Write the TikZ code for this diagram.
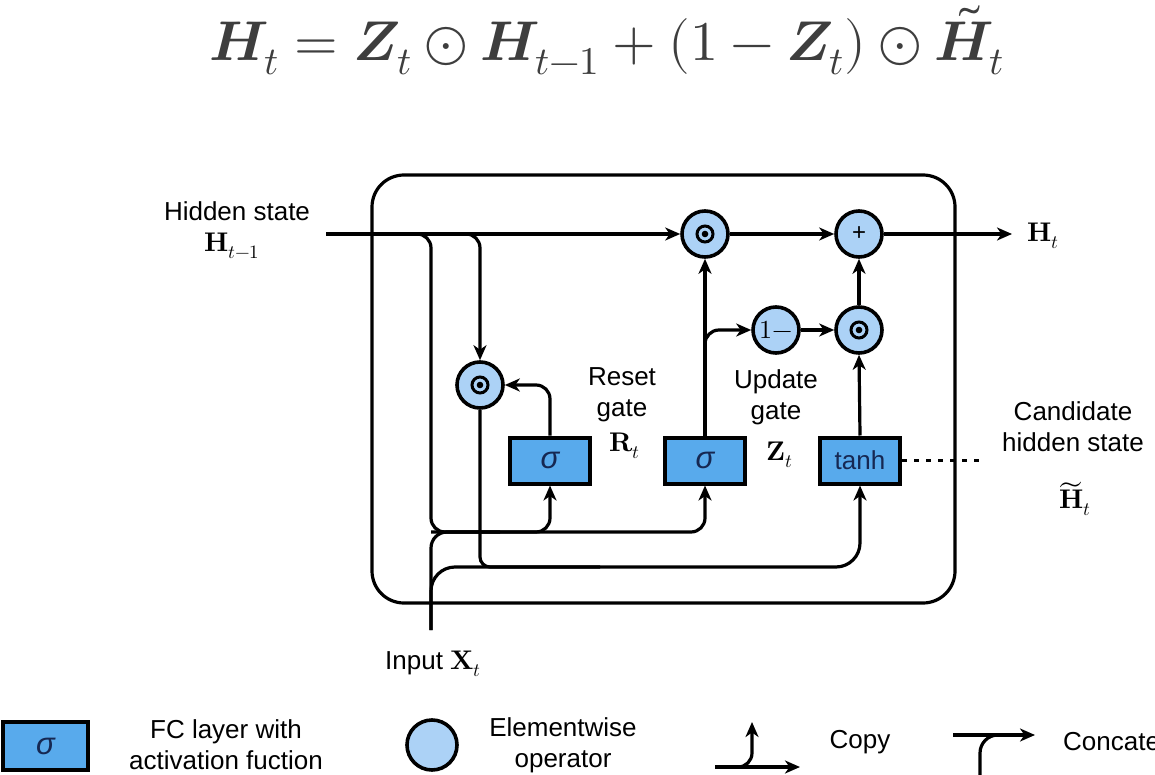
\documentclass[tikz,border=0pt]{standalone}
\usepackage{fontspec}
\usepackage{unicode-math}
\setsansfont{Liberation Sans}
\usetikzlibrary{arrows.meta,calc}
\definecolor{boxblue}{RGB}{88,170,236}
\definecolor{opblue}{RGB}{172,210,246}
\definecolor{navy}{RGB}{22,40,82}
\definecolor{eqgray}{RGB}{62,62,62}
\tikzset{
  ln/.style={line width=3.2pt},
  arr/.style={ln,-{Stealth[length=15pt,width=13pt,inset=4.5pt]}},
  gbox/.style={draw,line width=4pt,fill=boxblue,minimum width=80pt,minimum height=46pt,inner sep=0pt,
    font=\sffamily\fontsize{26}{30}\selectfont,text=navy},
  op/.style={draw,circle,line width=3.6pt,fill=opblue,minimum size=46pt,inner sep=0pt},
  odot/.style={op,path picture={
      \draw[black,line width=3pt] (path picture bounding box.center) circle (8pt);
      \fill[black] (path picture bounding box.center) circle (3.3pt);}},
  lbl/.style={font=\sffamily\fontsize{26}{31}\selectfont,align=center,inner sep=0pt},
  mlbl/.style={font=\fontsize{27}{30}\selectfont,inner sep=0pt},
}
\newcommand{\sig}{{\fontsize{31}{31}\selectfont\itshape σ}}
\begin{document}
\begin{tikzpicture}[x=1pt,y=-1pt]
\path[use as bounding box,fill=white] (0,0) rectangle (1155,775);

% formula
\node[text=eqgray,font=\fontsize{56}{60}\selectfont] (eq) at (607,40)
  {$\symbfit{H}_t = \symbfit{Z}_t \odot \symbfit{H}_{t-1} + (1 - \symbfit{Z}_t) \odot \tilde{\symbfit{H}}_t$};

% cell
\node[draw,line width=3.2pt,rounded corners=32pt,minimum width=583pt,minimum height=428pt] (cell) at (663.5,389) {};

% coordinates
\coordinate (hin) at (326,234);
\coordinate (hout) at (1012,234);
\coordinate (bus1) at (431,532);
\coordinate (b2) at (600,567);
\coordinate (xin) at (431,630);
\coordinate (zb) at (705,360);
\coordinate (dotend) at (980,460.5);

% operators
\node[odot] (zm) at (705,234) {};
\node[op,font=\sffamily\fontsize{24}{26}\selectfont] (pl) at (859,234) {+};
\node[op,font=\fontsize{26}{28}\selectfont] (om) at (776,330) {$1-$};
\node[odot] (hm) at (859,330) {};
\node[odot] (rm) at (480,385) {};

% gates
\node[gbox] (rs) at (550,460.5) {\sig};
\node[gbox] (zs) at (705,460.5) {\sig};
\node[gbox] (th) at (860,460.5) {tanh};

% connectors
\draw[arr] (hin) -- (zm.west);
\draw[arr,rounded corners=14pt] (hin) -| (rm.north);
\draw[arr,rounded corners=14pt] (hin) -| (bus1) -| (rs.south);
\draw[arr,rounded corners=14pt] (bus1) -| (zs.south);
\draw[ln,rounded corners=16pt] (xin) |- (500,532);
\draw[arr,rounded corners=24pt] (xin) |- (b2) -| (th.south);
\draw[ln,rounded corners=10pt] (rm.south) |- (b2);
\draw[arr,rounded corners=14pt] (rs.north) |- (rm.east);
\draw[arr] (zs.north) -- (zm.south);
\draw[arr,rounded corners=14pt] (zb) |- (om.west);
\draw[arr] (om.east) -- (hm.west);
\draw[arr] (th.north) -- (hm.south);
\draw[arr] (hm.north) -- (pl.south);
\draw[arr] (zm.east) -- (pl.west);
\draw[arr] (pl.east) -- (hout);
\draw[line width=3pt,dash pattern=on 5pt off 7pt] (th.east) -- (dotend);

% labels
\node[lbl] (lhid) at (237,211) {Hidden state};
\node[mlbl] (lh1) at (232,246) {$\symbf{H}_{t-1}$};
\node[mlbl] (lht) at (1043,236) {$\symbf{H}_t$};
\node[lbl] (lreset) at (622,395) {Reset\\gate};
\node[mlbl] (lr) at (625,446) {$\symbf{R}_t$};
\node[lbl] (lupd) at (776,397) {Update\\gate};
\node[mlbl] (lz) at (780,455) {$\symbf{Z}_t$};
\node[lbl] (lcand) at (1073,427) {Candidate\\hidden state};
\node[mlbl] (lhc) at (1075,499) {$\widetilde{\symbf{H}}_t$};
\node[lbl,anchor=west] (linp) at (385,664) {Input \fontsize{27}{30}\selectfont$\symbf{X}_t$};

% legend
\node[gbox,minimum width=85pt,minimum height=48pt] (lgbox) at (45.5,746) {\sig};
\node[lbl] (lgfc) at (226,745) {FC layer with\\activation fuction};
\node[op,minimum size=50pt] (lgop) at (432,745) {};
\node[lbl] (lgel) at (563,745) {Elementwise\\operator};
\coordinate (cpa) at (715,767);
\coordinate (cpb) at (800,767);
\coordinate (cps) at (736,767);
\coordinate (cpc) at (752,722);
\draw[arr] (cpa) -- (cpb);
\draw[arr,rounded corners=14pt] (cps) -| (cpc);
\node[lbl] (lgcopy) at (860,742) {Copy};
\coordinate (cca) at (953,735);
\coordinate (ccb) at (1035,735);
\coordinate (ccs) at (980,775);
\coordinate (ccj) at (1005,735);
\draw[arr] (cca) -- (ccb);
\draw[ln,rounded corners=18pt] (ccs) |- (ccj);
\node[lbl,anchor=west] (lgcat) at (1063,742) {Concate};
\end{tikzpicture}
\end{document}
